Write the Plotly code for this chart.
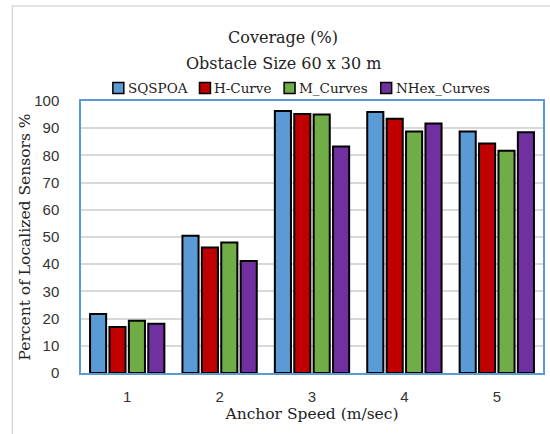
import plotly.graph_objects as go

speeds = ["1", "2", "3", "4", "5"]
sqspoa = [21.7, 50.5, 96.3, 96.0, 88.8]
h_curve = [16.9, 46.1, 95.2, 93.5, 84.4]
m_curves = [19.2, 48.0, 95.0, 88.8, 81.7]
nhex_curves = [18.1, 41.2, 83.3, 91.7, 88.5]
y_ticks = [0, 10, 20, 30, 40, 50, 60, 70, 80, 90, 100]
title_lines = ["Coverage (%)", "Obstacle Size 60 x 30 m"]

series = [
    ("SQSPOA", sqspoa, "#5B9BD5"),
    ("H-Curve", h_curve, "#C00000"),
    ("M_Curves", m_curves, "#70AD47"),
    ("NHex_Curves", nhex_curves, "#7030A0"),
]

serif = "DejaVu Serif"
sans = "Liberation Sans"

# plot-area geometry in pixels (used to place the custom legend and title)
W, H = 550, 434
L, R, T, B = 81, 5, 101, 61
pw, ph = W - L - R, H - T - B


def px_x(x):
    return (x - L) / pw


def px_y(y):
    return (H - B - y) / ph


fig = go.Figure()
for name, vals, color in series:
    fig.add_trace(go.Bar(
        name=name, x=speeds, y=vals, showlegend=False,
        marker=dict(color=color, line=dict(color="black", width=2)),
    ))

shapes = []
annotations = []

# two-line chart heading
for line, y in zip(title_lines, [38, 63]):
    annotations.append(dict(
        text=line, xref="paper", yref="paper", showarrow=False,
        x=px_x(284), y=px_y(y), xanchor="center", yanchor="middle",
        font=dict(family=serif, size=16, color="#222"),
    ))

# compact legend: square swatch directly followed by the series name
legend_left = [113, 200, 285, 382]
for (name, _, color), x0 in zip(series, legend_left):
    shapes.append(dict(
        type="rect", xref="paper", yref="paper",
        x0=px_x(x0), x1=px_x(x0 + 11), y0=px_y(93.5), y1=px_y(82.5),
        fillcolor=color, line=dict(color="black", width=1.5),
    ))
    annotations.append(dict(
        text=name, xref="paper", yref="paper", showarrow=False,
        x=px_x(x0 + 13), y=px_y(87.5), xanchor="left", yanchor="middle",
        font=dict(family=serif, size=13.5, color="#222"),
    ))

# light outer chart frame
shapes.append(dict(
    type="rect", xref="paper", yref="paper",
    x0=px_x(12), x1=px_x(555), y0=px_y(440), y1=px_y(6),
    line=dict(color="#D9D9D9", width=1.5), layer="below",
))

fig.update_layout(
    width=W, height=H,
    margin=dict(l=L, r=R, t=T, b=B),
    paper_bgcolor="white", plot_bgcolor="white",
    barmode="group", bargap=0.16, bargroupgap=0.17,
    showlegend=False,
    xaxis=dict(
        title=dict(text="Anchor Speed (m/sec)", font=dict(family=serif, size=15.5, color="#222"), standoff=2),
        tickfont=dict(family=sans, size=15, color="#333"),
        ticklabelstandoff=9,
        showline=True, linecolor="#5B9BD5", linewidth=1.5, mirror=True,
        ticks="",
    ),
    yaxis=dict(
        title=dict(text="Percent of Localized Sensors %", font=dict(family=serif, size=15.5, color="#222"), standoff=0),
        tickfont=dict(family=sans, size=15, color="#333"),
        ticklabelstandoff=17,
        range=[0, 100], tickvals=y_ticks,
        showgrid=True, gridcolor="#D9D9D9", gridwidth=1.5,
        showline=True, linecolor="#5B9BD5", linewidth=1.5, mirror=True,
        zeroline=False,
    ),
    shapes=shapes,
    annotations=annotations,
)

fig.write_html("out.html")
